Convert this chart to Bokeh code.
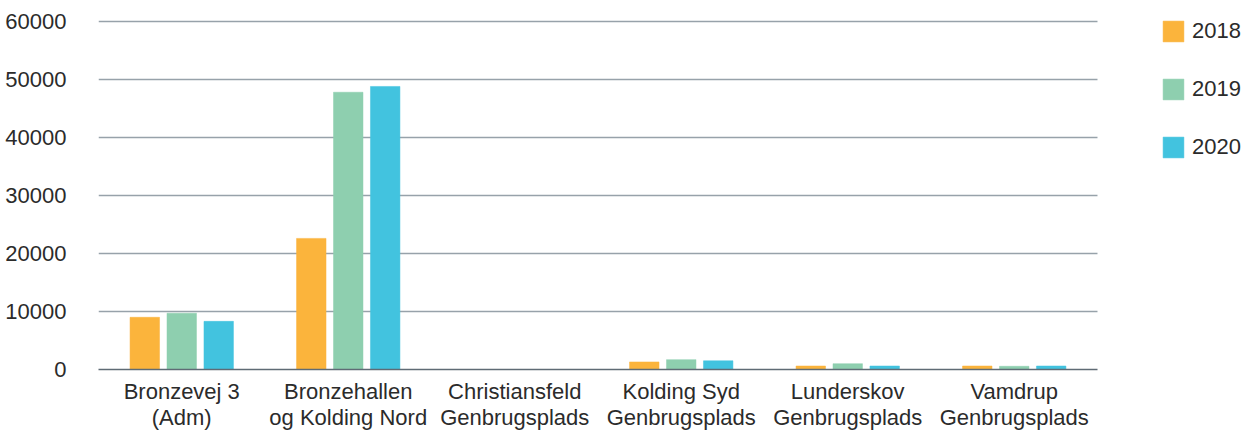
from bokeh.plotting import figure
from bokeh.models import ColumnDataSource, Range1d, Legend, LegendItem, FixedTicker
from bokeh.transform import dodge
from bokeh.embed import file_html
from bokeh.resources import INLINE

categories = ["Bronzevej 3\n(Adm)", "Bronzehallen\nog Kolding Nord", "Christiansfeld\nGenbrugsplads",
              "Kolding Syd\nGenbrugsplads", "Lunderskov\nGenbrugsplads", "Vamdrup\nGenbrugsplads"]
years = ["2018", "2019", "2020"]
v2018 = [9000, 22600, 0, 1300, 600, 600]
v2019 = [9700, 47800, 0, 1700, 1000, 550]
v2020 = [8300, 48800, 0, 1500, 600, 600]
y_ticks = [0, 10000, 20000, 30000, 40000, 50000, 60000]
colors = ["#FBB43C", "#8ECFAF", "#42C3DF"]

N = len(categories)
pos = [i + 0.5 for i in range(N)]
src = ColumnDataSource(dict(x=pos, y2018=v2018, y2019=v2019, y2020=v2020))

FONT = "Liberation Sans"
TXT = "#2b2b2b"

p = figure(width=1247, height=440, x_range=Range1d(0, 6.901), y_range=Range1d(0, 61897),
           output_backend="svg", toolbar_location=None,
           min_border_left=98, min_border_right=0, min_border_top=10, min_border_bottom=71)
p.outline_line_color = None
p.background_fill_color = "white"
p.xgrid.grid_line_color = None
p.ygrid.grid_line_color = None

# horizontal guide lines over the category span only
grid_y = y_ticks[1:]
p.segment(x0=[0] * len(grid_y), x1=[N] * len(grid_y), y0=grid_y, y1=grid_y,
          line_color="#97a2aa", line_width=1.5)

renderers = []
for off, key, col in zip([-0.222, 0.0, 0.222], ["y2018", "y2019", "y2020"], colors):
    r = p.vbar(x=dodge("x", off), top=key, width=0.177, source=src,
               fill_color=col, line_color=col, line_alpha=0.5)
    renderers.append(r)

p.yaxis.ticker = FixedTicker(ticks=y_ticks)
p.yaxis.axis_line_color = None
p.yaxis.major_tick_line_color = None
p.yaxis.minor_tick_line_color = None
p.yaxis.major_label_standoff = 26
p.yaxis.major_label_text_font = FONT
p.yaxis.major_label_text_font_size = "22px"
p.yaxis.major_label_text_color = TXT

p.xaxis.ticker = FixedTicker(ticks=pos)
p.xaxis.major_label_overrides = {x: c for x, c in zip(pos, categories)}
p.xaxis.bounds = (0, N)
p.xaxis.axis_line_color = "#5f6b75"
p.xaxis.axis_line_width = 1.5
p.xaxis.major_tick_line_color = None
p.xaxis.minor_tick_line_color = None
p.xaxis.major_label_standoff = 3
p.xaxis.major_label_text_font = FONT
p.xaxis.major_label_text_font_size = "22px"
p.xaxis.major_label_text_color = TXT
p.xaxis.major_label_text_line_height = 1.05
p.xaxis.major_label_orientation = "horizontal"

legend = Legend(items=[LegendItem(label=y, renderers=[r]) for y, r in zip(years, renderers)],
                location=(1062, 209), orientation="vertical")
legend.glyph_width = 26
legend.glyph_height = 26
legend.spacing = 32
legend.label_standoff = 6
legend.label_text_font = FONT
legend.label_text_font_size = "22px"
legend.label_text_color = TXT
legend.border_line_color = None
legend.background_fill_alpha = 0
legend.padding = 0
legend.margin = 0
legend.label_height = 26
legend.label_text_baseline = "middle"
p.add_layout(legend, "center")

open("out.html", "w").write(file_html(p, INLINE))
